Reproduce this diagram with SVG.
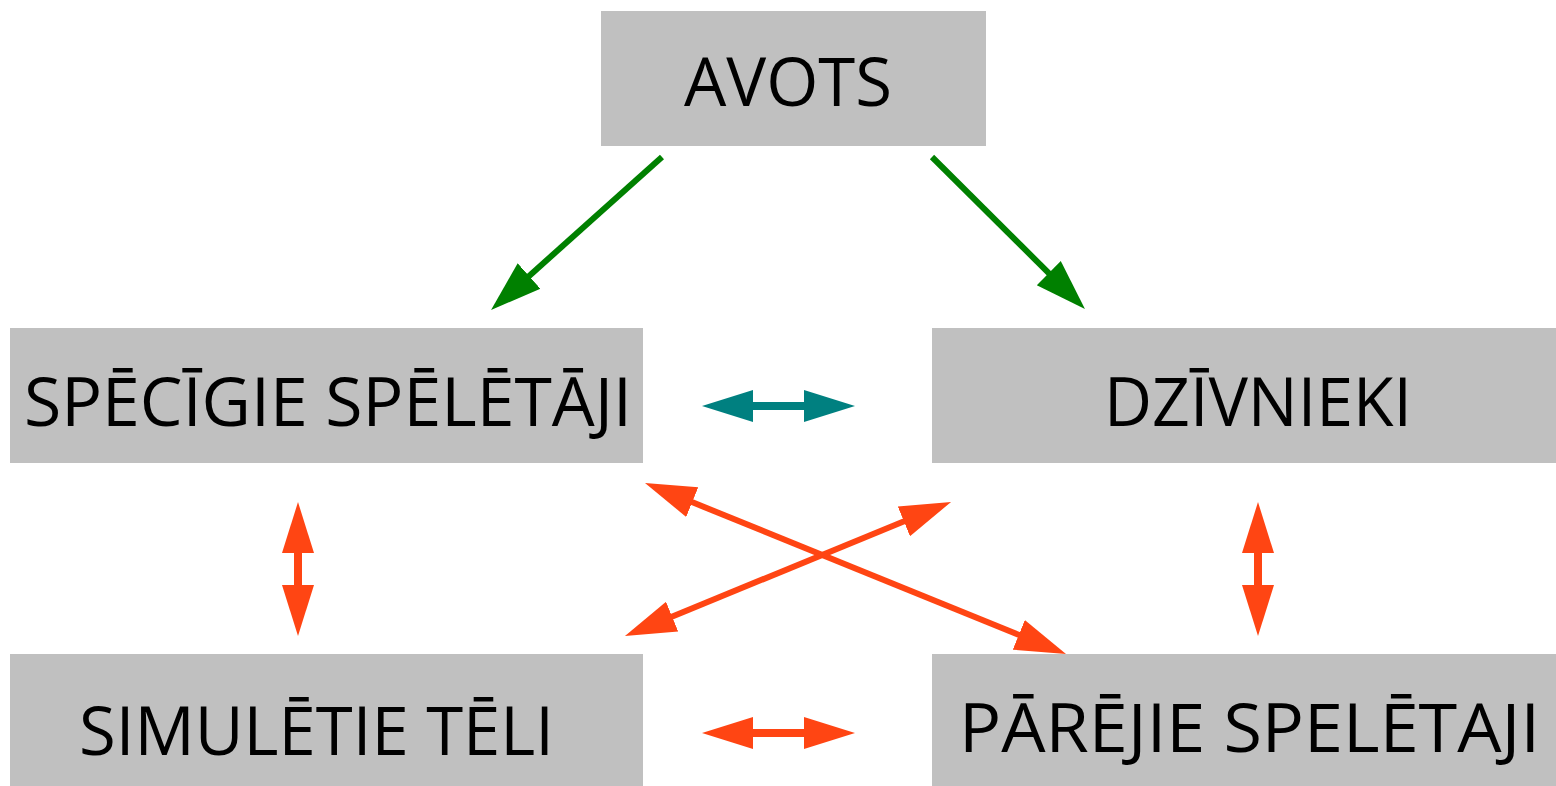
<svg xmlns="http://www.w3.org/2000/svg" width="1556" height="786" viewBox="0 0 1556 786">
  <style>
    .box { fill: #c0c0c0; }
    .label { font-family: "Open Sans", "Noto Sans", "DejaVu Sans", sans-serif; font-size: 67px; fill: #000; }
    .green { stroke: #008000; stroke-width: 6; fill: none; }
    .teal { stroke: #008080; stroke-width: 8; fill: none; }
    .orange { stroke: #ff4513; stroke-width: 8; fill: none; }
    .orange-thin { stroke: #ff4513; stroke-width: 6; fill: none; }
  </style>
  <defs>
    <!-- Arrowheads start at the line end (base) and extend 50px forward -->
    <marker id="head-green" markerUnits="userSpaceOnUse" markerWidth="52" markerHeight="36" viewBox="0 -17 52 34" refX="1" refY="0" orient="auto-start-reverse">
      <path d="M0,-17 L51,0 L0,17 z" fill="#008000"/>
    </marker>
    <marker id="head-teal" markerUnits="userSpaceOnUse" markerWidth="52" markerHeight="36" viewBox="0 -17 52 34" refX="1" refY="0" orient="auto-start-reverse">
      <path d="M0,-16 L51,0 L0,16 z" fill="#008080"/>
    </marker>
    <marker id="head-orange" markerUnits="userSpaceOnUse" markerWidth="52" markerHeight="36" viewBox="0 -17 52 34" refX="1" refY="0" orient="auto-start-reverse">
      <path d="M0,-16 L51,0 L0,16 z" fill="#ff4513"/>
    </marker>
  </defs>

  <rect width="1556" height="786" fill="#ffffff"/>

  <g id="avots">
    <rect class="box" x="601" y="11" width="385" height="135"/>
    <text class="label" x="684" y="106" textLength="208" lengthAdjust="spacingAndGlyphs">AVOTS</text>
  </g>

  <g id="specigie-speletaji">
    <rect class="box" x="10" y="328" width="633" height="135"/>
    <text class="label" x="24" y="426" textLength="608" lengthAdjust="spacingAndGlyphs">SPĒCĪGIE SPĒLĒTĀJI</text>
  </g>

  <g id="dzivnieki">
    <rect class="box" x="932" y="328" width="624" height="135"/>
    <text class="label" x="1104" y="426" textLength="308" lengthAdjust="spacingAndGlyphs">DZĪVNIEKI</text>
  </g>

  <g id="simuletie-teli">
    <rect class="box" x="10" y="654" width="633" height="132"/>
    <text class="label" x="79" y="755" textLength="475" lengthAdjust="spacingAndGlyphs">SIMULĒTIE TĒLI</text>
  </g>

  <g id="parejie-speletaji">
    <rect class="box" x="932" y="654" width="624" height="132"/>
    <text class="label" x="959" y="752" textLength="581" lengthAdjust="spacingAndGlyphs">PĀRĒJIE SPELĒTAJI</text>
  </g>

  <g id="connectors">
    <!-- from AVOTS -->
    <line class="green" x1="662" y1="157" x2="528.3" y2="276.7" marker-end="url(#head-green)"/>
    <line class="green" x1="932" y1="157" x2="1049.5" y2="273.8" marker-end="url(#head-green)"/>
    <!-- between the upper pair -->
    <line class="teal" x1="752" y1="406" x2="805" y2="406" marker-start="url(#head-teal)" marker-end="url(#head-teal)"/>
    <!-- vertical links -->
    <line class="orange" x1="298" y1="552" x2="298" y2="586" marker-start="url(#head-orange)" marker-end="url(#head-orange)"/>
    <line class="orange" x1="1258" y1="552" x2="1258" y2="586" marker-start="url(#head-orange)" marker-end="url(#head-orange)"/>
    <!-- between the lower pair -->
    <line class="orange" x1="752" y1="733" x2="805" y2="733" marker-start="url(#head-orange)" marker-end="url(#head-orange)"/>
    <!-- diagonals -->
    <line class="orange-thin" x1="691.3" y1="501.8" x2="1019.7" y2="635.2" marker-start="url(#head-orange)" marker-end="url(#head-orange)"/>
    <line class="orange-thin" x1="671.2" y1="617" x2="904.8" y2="521" marker-start="url(#head-orange)" marker-end="url(#head-orange)"/>
  </g>
</svg>
